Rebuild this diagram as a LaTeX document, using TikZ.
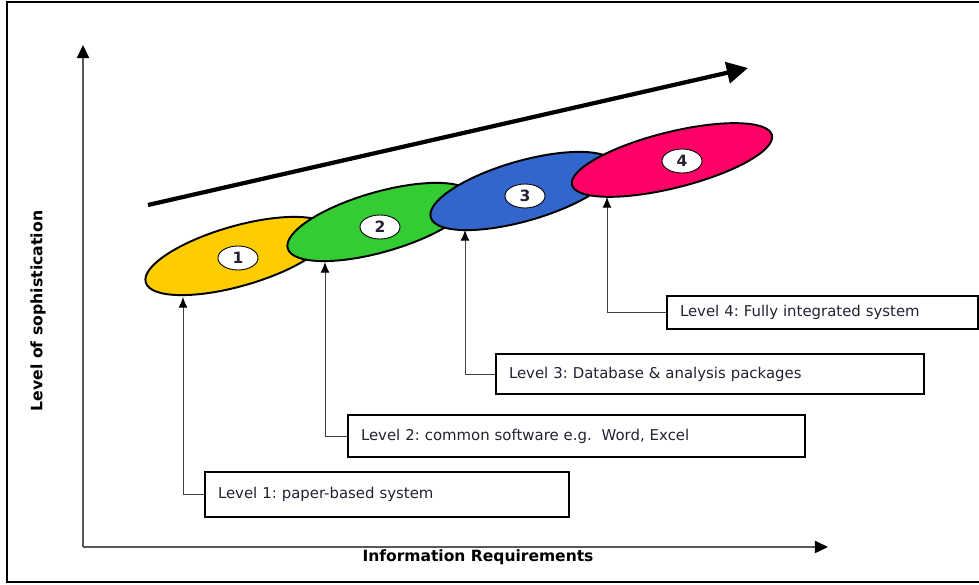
\documentclass[tikz,border=0pt]{standalone}
\usepackage{fontspec}
\setmainfont{DejaVu Sans}
\usetikzlibrary{shapes.geometric,arrows.meta}
\definecolor{lvlyellow}{HTML}{FFCC00}
\definecolor{lvlgreen}{HTML}{33CC33}
\definecolor{lvlblue}{HTML}{3366CC}
\definecolor{lvlpink}{HTML}{FF0066}
\definecolor{boxtext}{HTML}{222233}
\frenchspacing
\tikzset{
  lvl/.style={ellipse, draw, line width=1.1pt, minimum width=108.8pt, minimum height=34pt, inner sep=0pt, rotate=#1},
  lvl/.default=16,
  num/.style={ellipse, draw, fill=white, line width=0.5pt, minimum width=22.7pt, minimum height=13.6pt, inner sep=0pt, font=\bfseries\fontsize{8.8}{10}\selectfont, text=boxtext},
  lvlbox/.style={draw, line width=1.1pt, anchor=north west, inner xsep=7.4pt, inner ysep=0pt, align=left, font=\fontsize{8.45}{10}\selectfont, text=boxtext},
  conn/.style={-{Latex[length=6pt,width=5pt,color=black]}, black!75, line width=0.5pt},
  axis/.style={-{Triangle[length=7.5pt,width=7pt,color=black]}, black!65, line width=0.7pt}
}
\begin{document}
\begin{tikzpicture}[x=0.5669pt, y=-0.5669pt]
  \useasboundingbox (0,0) rectangle (979,585);
  % frame
  \draw[line width=1.2pt] (979,2) -- (7,2) -- (7,582) -- (979,582);
  % axes
  \coordinate (O) at (83,547);
  \coordinate (ytip) at (83,45);
  \coordinate (xtip) at (828,547);
  \draw[axis] (O) -- (ytip);
  \draw[axis] (O) -- (xtip);
  \node[font=\bfseries\fontsize{8.8}{10}\selectfont] (xlab) at (478,557) {Information Requirements};
  \node[font=\bfseries\fontsize{8.9}{10}\selectfont, rotate=90] (ylab) at (38,311) {Level of sophistication};
  % trend arrow
  \coordinate (trendA) at (148,205);
  \coordinate (trendB) at (748,68);
  \draw[line width=2.4pt, -{Triangle[length=12pt,width=12pt]}] (trendA) -- (trendB);
  % levels
  \node[lvl, fill=lvlyellow] (e1) at (238,256) {};
  \node[lvl, fill=lvlgreen] (e2) at (380,222) {};
  \node[lvl, fill=lvlblue] (e3) at (523,191) {};
  \node[lvl=14, fill=lvlpink, minimum width=116.8pt, minimum height=31.7pt] (e4) at (672,160) {};
  \node[num] (n1) at (238,258) {1};
  \node[num] (n2) at (380,227) {2};
  \node[num] (n3) at (525,196) {3};
  \node[num] (n4) at (682,161) {4};
  % boxes
  \node[lvlbox, text width=191.6pt, minimum height=25.5pt] (b1) at (204,471) {Level 1: paper-based system};
  \node[lvlbox, text width=244.3pt, minimum height=23.8pt] (b2) at (347,414) {Level 2: common software e.g.~\ Word, Excel};
  \node[lvlbox, text width=227.8pt, minimum height=22.7pt] (b3) at (495,353) {Level 3: Database \& analysis packages};
  \node[lvlbox, text width=161.5pt, minimum height=18.7pt] (b4) at (666,295) {Level 4: Fully integrated system};
  % connectors
  \coordinate (t1) at (183,297);
  \coordinate (t2) at (325,262);
  \coordinate (t3) at (465,230);
  \coordinate (t4) at (607,197);
  \draw[conn] (b1.west) -| (t1);
  \draw[conn] (b2.west) -| (t2);
  \draw[conn] (b3.west) -| (t3);
  \draw[conn] (b4.west) -| (t4);
\end{tikzpicture}
\end{document}
